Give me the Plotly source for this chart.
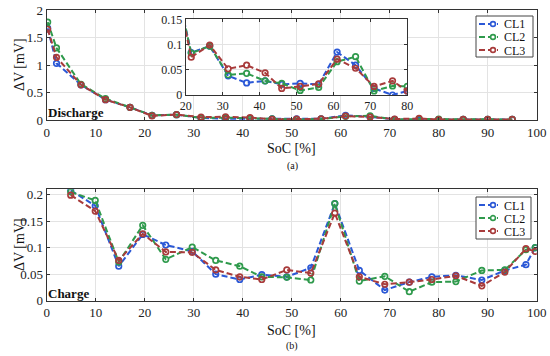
import plotly.graph_objects as go

# ---------------- data ----------------
series_names = ["CL1", "CL2", "CL3"]
colors = ["#2b58d6", "#2f9a4c", "#a83b3b"]

dis_soc = [0.2, 2, 7, 12, 17, 21.5, 26.5, 31.5, 36.5, 41.5, 46, 51, 56, 61, 66, 71, 76, 80, 85, 90, 95]
dis_cl1 = [1.67, 1.03, 0.64, 0.37, 0.23, 0.084, 0.097, 0.038, 0.024, 0.028, 0.021, 0.023, 0.021, 0.085, 0.059, 0.013, 0.0, 0.008, 0.010, 0.010, 0.010]
dis_cl2 = [1.78, 1.31, 0.65, 0.39, 0.23, 0.083, 0.097, 0.040, 0.043, 0.028, 0.023, 0.009, 0.015, 0.066, 0.076, 0.008, 0.018, 0.017, 0.012, 0.010, 0.010]
dis_cl3 = [1.65, 1.14, 0.64, 0.37, 0.23, 0.075, 0.099, 0.052, 0.059, 0.044, 0.013, 0.017, 0.022, 0.071, 0.053, 0.017, 0.028, 0.008, 0.010, 0.010, 0.010]

chg_soc = [4.9, 9.9, 14.7, 19.6, 24.3, 29.7, 34.5, 39.4, 43.9, 49, 53.9, 58.8, 63.8, 69, 74, 78.6, 83.5, 88.8, 93.5, 97.8, 99.7]
chg_cl1 = [0.208, 0.179, 0.065, 0.125, 0.105, 0.093, 0.050, 0.040, 0.049, 0.045, 0.062, 0.183, 0.057, 0.020, 0.035, 0.045, 0.048, 0.039, 0.057, 0.068, 0.100]
chg_cl2 = [0.205, 0.189, 0.073, 0.142, 0.078, 0.101, 0.076, 0.065, 0.045, 0.044, 0.039, 0.183, 0.037, 0.046, 0.017, 0.035, 0.036, 0.057, 0.058, 0.096, 0.100]
chg_cl3 = [0.199, 0.169, 0.076, 0.126, 0.092, 0.091, 0.058, 0.045, 0.040, 0.058, 0.052, 0.165, 0.045, 0.031, 0.035, 0.040, 0.047, 0.028, 0.054, 0.098, 0.093]

x_ticks = [0, 10, 20, 30, 40, 50, 60, 70, 80, 90, 100]
top_y_ticks = [0, 0.5, 1, 1.5, 2]
bot_y_ticks = [0, 0.05, 0.1, 0.15, 0.2]
inset_x_ticks = [20, 30, 40, 50, 60, 70, 80]
inset_y_ticks = [0, 0.05, 0.1, 0.15]

FONT = "Liberation Serif, Times New Roman, DejaVu Serif, serif"
W, H = 550, 356


def px_x(p):
    return p / W


def px_y(p):
    return 1 - p / H


fig = go.Figure()

dis_sets = [dis_cl1, dis_cl2, dis_cl3]
chg_sets = [chg_cl1, chg_cl2, chg_cl3]

line_style = dict(width=2, dash="6px,3px")


def mk(col):
    return dict(symbol="circle-open", size=5.5, color=col, line=dict(width=1.7, color=col))


for name, col, vals in zip(series_names, colors, dis_sets):
    fig.add_trace(go.Scatter(x=dis_soc, y=vals, mode="lines+markers", name=name, showlegend=False,
                             line=dict(color=col, **line_style), marker=mk(col),
                             xaxis="x", yaxis="y"))
for name, col, vals in zip(series_names, colors, dis_sets):
    fig.add_trace(go.Scatter(x=dis_soc, y=vals, mode="lines+markers", name=name, showlegend=False,
                             line=dict(color=col, **line_style), marker=mk(col),
                             xaxis="x3", yaxis="y3"))
for name, col, vals in zip(series_names, colors, chg_sets):
    fig.add_trace(go.Scatter(x=chg_soc, y=vals, mode="lines+markers", name=name, showlegend=False,
                             line=dict(color=col, **line_style), marker=mk(col),
                             xaxis="x2", yaxis="y2"))

tick_font = dict(family=FONT, size=13, color="#222222")
axis_common = dict(showline=True, linecolor="#333333", linewidth=1, mirror="allticks",
                   ticks="inside", ticklen=3, tickcolor="#333333", automargin=False,
                   showgrid=True, gridcolor="#e3e3e3", gridwidth=1, zeroline=False,
                   tickfont=tick_font)
inset_common = {**axis_common, "tickfont": dict(family=FONT, size=12, color="#222222")}

xdom = [px_x(46.7), px_x(536.7)]

fig.update_layout(
    width=W, height=H, margin=dict(l=0, r=0, t=0, b=0, autoexpand=False),
    paper_bgcolor="white", plot_bgcolor="white",
    font=dict(family=FONT, color="#222222"),
    showlegend=False,
    xaxis=dict(domain=xdom, range=[0, 100], tickvals=x_ticks, anchor="y", **axis_common),
    yaxis=dict(domain=[px_y(120), px_y(10)], range=[0, 2], tickvals=top_y_ticks, anchor="x", **axis_common),
    xaxis2=dict(domain=xdom, range=[0, 100], tickvals=x_ticks, anchor="y2", **axis_common),
    yaxis2=dict(domain=[px_y(300.7), px_y(189.3)], range=[0, 0.21], tickvals=bot_y_ticks,
                tickformat="~g", anchor="x2", **axis_common),
    xaxis3=dict(domain=[px_x(185.7), px_x(407.3)], range=[20, 80], tickvals=inset_x_ticks, anchor="y3",
                **inset_common),
    yaxis3=dict(domain=[px_y(95), px_y(19.3)], range=[0, 0.15], tickvals=inset_y_ticks,
                tickformat="~g", anchor="x3", **inset_common),
)

annos = [
    dict(text="ΔV [mV]", x=px_x(19), y=px_y(65), textangle=-90, font=dict(size=14)),
    dict(text="ΔV [mV]", x=px_x(19), y=px_y(245), textangle=-90, font=dict(size=14)),
    dict(text="SoC [%]", x=px_x(291), y=px_y(148), font=dict(size=14)),
    dict(text="SoC [%]", x=px_x(291), y=px_y(330), font=dict(size=14)),
    dict(text="(a)", x=px_x(292), y=px_y(166), font=dict(size=10)),
    dict(text="(b)", x=px_x(292), y=px_y(346), font=dict(size=10)),
    dict(text="<b>Discharge</b>", x=px_x(46), y=px_y(113), xanchor="left", font=dict(size=13)),
    dict(text="<b>Charge</b>", x=px_x(46), y=px_y(293), xanchor="left", font=dict(size=13)),
]
for a in annos:
    a.setdefault("xanchor", "center")
    fig.add_annotation(xref="paper", yref="paper", showarrow=False, yanchor="middle",
                       **{k: v for k, v in a.items() if k != "font"},
                       font=dict(family=FONT, color="#111111", **a["font"]))


# ---- compact legends (MATLAB style) drawn as shapes + text ----
def add_legend(box, rows):
    x0, y0, x1, y1 = box
    fig.add_shape(type="rect", xref="paper", yref="paper",
                  x0=px_x(x0), x1=px_x(x1), y0=px_y(y1), y1=px_y(y0),
                  line=dict(color="#444444", width=1), fillcolor="white", layer="above")
    for name, col, ry in zip(series_names, colors, rows):
        fig.add_shape(type="line", xref="paper", yref="paper",
                      x0=px_x(x0 + 3), x1=px_x(x0 + 22), y0=px_y(ry), y1=px_y(ry),
                      line=dict(color=col, width=2, dash="6px,3px"), layer="above")
        r = 2.4
        cx = x0 + 17
        fig.add_shape(type="circle", xref="paper", yref="paper",
                      x0=px_x(cx - r), x1=px_x(cx + r), y0=px_y(ry + r), y1=px_y(ry - r),
                      line=dict(color=col, width=1.6), fillcolor="white", layer="above")
        fig.add_annotation(xref="paper", yref="paper", showarrow=False,
                           x=px_x(x0 + 28), y=px_y(ry), xanchor="left", yanchor="middle",
                           borderpad=0, borderwidth=0, height=11,
                           text=name, font=dict(family=FONT, size=12, color="#111111"))


add_legend((476, 16, 533, 57), [24, 37, 50])
add_legend((476, 197, 531, 239), [205, 218, 231])

fig.write_html("out.html", config={"displayModeBar": False, "staticPlot": True},
               post_script="document.body.style.margin='0';document.body.style.overflow='hidden';")
